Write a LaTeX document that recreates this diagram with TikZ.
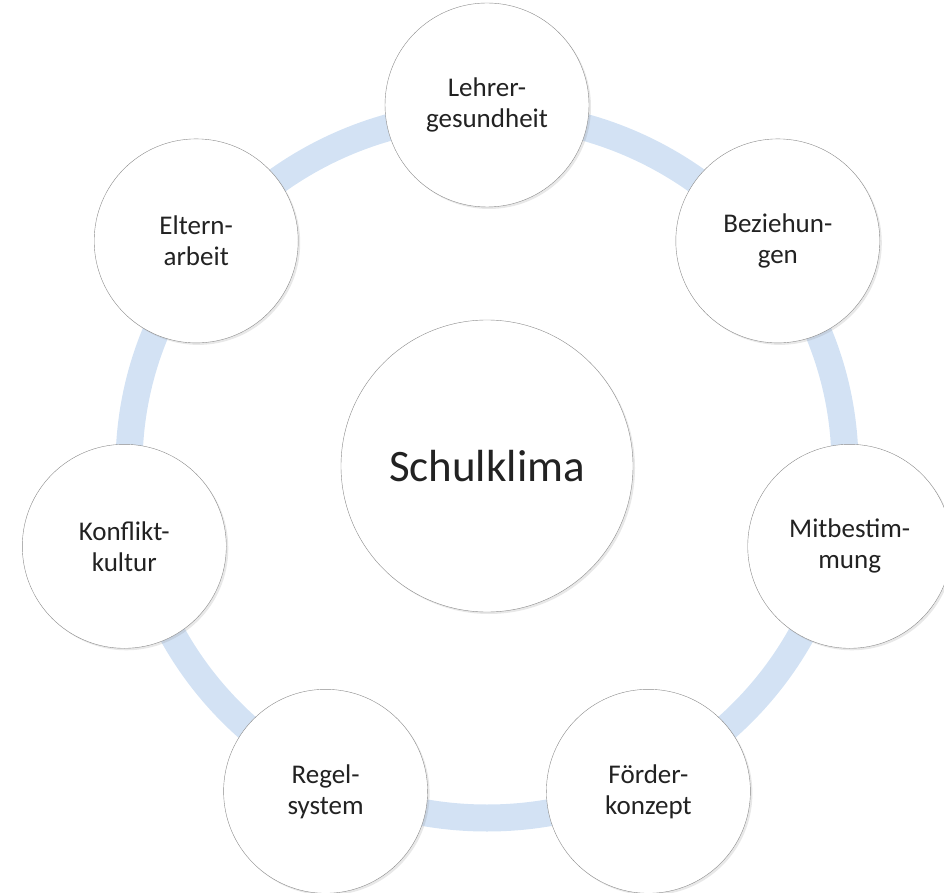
\documentclass[tikz,border=0pt]{standalone}
\usepackage{fontspec}
\setmainfont{Carlito}
\usetikzlibrary{shadows}
\definecolor{INK}{HTML}{222222}
\definecolor{RING}{HTML}{D3E2F4}
\definecolor{RIM}{HTML}{8A8A8A}

\begin{document}
\begin{tikzpicture}[x=1pt,y=1pt]
\tikzset{ring/.style={line width=27pt,RING},
 bubble/.style={circle,draw=RIM,thin,fill=white,minimum size=204pt,inner sep=0pt,align=center,text=INK,
  font=\fontsize{27}{31}\selectfont,drop shadow={opacity=0.18,shadow xshift=2pt,shadow yshift=-2pt}},
 hub/.style={bubble,minimum size=292pt,font=\fontsize{45}{54}\selectfont}}
\useasboundingbox (0,0) rectangle (944,892);
\coordinate (mid) at (487,426);
\draw[ring] (mid) ellipse[x radius=358,y radius=352];
\node[hub] (klima) at (mid) {Schulklima};
\node[bubble] (lehrer) at ([shift={(0,361)}]mid) {Lehrer-\\gesundheit};
\node[bubble] (bez) at ([shift={(290.8,225.1)}]mid) {Beziehun-\\gen};
\node[bubble] (mitb) at ([shift={(362.7,-80.3)}]mid) {Mitbestim-\\mung};
\node[bubble] (foerder) at ([shift={(161.4,-325.3)}]mid) {Förder-\\konzept};
\node[bubble] (regel) at ([shift={(-161.4,-325.3)}]mid) {Regel-\\system};
\node[bubble] (konflikt) at ([shift={(-362.7,-80.3)}]mid) {Konflikt-\\kultur};
\node[bubble] (eltern) at ([shift={(-290.8,225.1)}]mid) {Eltern-\\arbeit};
\end{tikzpicture}
\end{document}
